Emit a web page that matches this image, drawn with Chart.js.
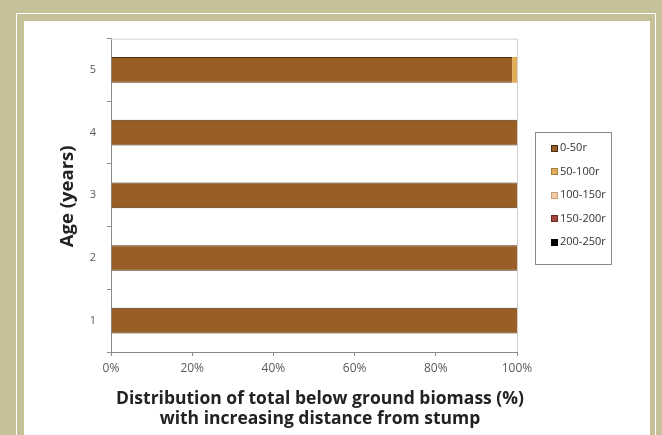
<!DOCTYPE html>
<html>
<head>
<meta charset="utf-8">
<script src="https://cdn.jsdelivr.net/npm/chart.js@4"></script>
<style>
  html, body { margin: 0; padding: 0; }
  body { width: 662px; height: 435px; background: #c6c198; position: relative; overflow: hidden; }
  .rule { position: absolute; left: 16px; top: 13px; width: 638px; height: 440px;
          border-left: 1px solid #fff; border-top: 1px solid #fff; border-right: 1px solid #fff; }
  .panel { position: absolute; left: 24px; top: 21px; width: 626px; height: 414px; background: #fff; }
  .panel canvas { position: absolute; left: 0; top: 0; }
</style>
</head>
<body>
<div class="rule"></div>
<div class="panel"><canvas id="biomass" width="626" height="414" style="width:626px;height:414px"></canvas></div>
<script>
// Tree age classes (years)
const ages = ['1', '2', '3', '4', '5'];

// Root-zone distance classes
const zoneNames = ['0-50r', '50-100r', '100-150r', '150-200r', '200-250r'];

// Share of below-ground biomass in each zone, % per age class
const zone0to50    = [100, 100, 100, 100, 98.8];
const zone50to100  = [0, 0, 0, 0, 1.2];
const zone100to150 = [0, 0, 0, 0, 0];
const zone150to200 = [0, 0, 0, 0, 0];
const zone200to250 = [0, 0, 0, 0, 0];

// Percent ticks along the horizontal axis
const percentTicks = [0, 20, 40, 60, 80, 100];

const xTitleLines = ['Distribution of total below ground biomass (%)', 'with increasing distance from stump'];
const yTitle = 'Age (years)';

const zoneColours = ['#995e26', '#e1ad58', '#f2cca5', '#a3433a', '#000000'];
const zoneEdges   = ['#4a2c10', '#a87c3a', '#c49c78', '#6e2a24', '#000000'];
const FONT = '"Open Sans", "DejaVu Sans", sans-serif';

const zoneValues = [zone0to50, zone50to100, zone100to150, zone150to200, zone200to250];

// Light frame along the top and right of the plot area
const plotFrame = {
  id: 'plotFrame',
  afterDatasetsDraw(chart) {
    const { ctx, chartArea: a } = chart;
    ctx.save();
    ctx.strokeStyle = '#cfcfcf';
    ctx.lineWidth = 1;
    ctx.beginPath();
    ctx.moveTo(a.left, a.top + 0.5);
    ctx.lineTo(a.right + 0.5, a.top + 0.5);
    ctx.lineTo(a.right + 0.5, a.bottom);
    ctx.stroke();
    ctx.restore();
  }
};

// Boxed legend to the right of the plot, centred on it vertically
const zoneLegend = {
  id: 'zoneLegend',
  afterDraw(chart) {
    const { ctx, chartArea: a } = chart;
    const sets = chart.data.datasets;
    const step = 23.5;
    const midY = (a.top + a.bottom) / 2;
    const firstY = midY - step * (sets.length - 1) / 2;
    const boxL = Math.round(a.right + 18) + 0.5;
    const boxR = boxL + 76;
    const boxT = Math.round(firstY - 16) + 0.5;
    const boxB = Math.round(firstY + step * (sets.length - 1) + 22) + 0.5;
    ctx.save();
    ctx.strokeStyle = '#8a8a8a';
    ctx.lineWidth = 1;
    ctx.strokeRect(boxL, boxT, boxR - boxL, boxB - boxT);
    ctx.font = '11px ' + FONT;
    ctx.textBaseline = 'middle';
    ctx.textAlign = 'left';
    sets.forEach((ds, i) => {
      const cy = firstY + i * step;
      const sx = boxL + 15.5;
      ctx.fillStyle = ds.backgroundColor;
      ctx.fillRect(sx, Math.round(cy - 3.5), 7, 7);
      ctx.strokeStyle = zoneEdges[i];
      ctx.strokeRect(sx + 0.5, Math.round(cy - 3.5) + 0.5, 6, 6);
      ctx.fillStyle = '#333';
      ctx.fillText(ds.label, sx + 9, cy);
    });
    ctx.restore();
  }
};

// Axis titles: horizontal one centred a little right of the plot centre
const axisTitles = {
  id: 'axisTitles',
  afterDraw(chart) {
    const { ctx, chartArea: a } = chart;
    ctx.save();
    ctx.fillStyle = '#222';
    ctx.textAlign = 'center';
    ctx.textBaseline = 'middle';
    ctx.font = 'bold 17.5px ' + FONT;
    const cx = (a.left + a.right) / 2 + 6;
    xTitleLines.forEach((line, i) => ctx.fillText(line, cx, a.bottom + 47 + i * 20));
    ctx.translate(a.left - 43, (a.top + a.bottom) / 2 + 1);
    ctx.rotate(-Math.PI / 2);
    ctx.font = 'bold 18.5px ' + FONT;
    ctx.fillText(yTitle, 0, 0);
    ctx.restore();
  }
};

new Chart(document.getElementById('biomass'), {
  type: 'bar',
  data: {
    labels: ages,
    datasets: zoneNames.map((name, i) => ({
      label: name,
      data: zoneValues[i],
      backgroundColor: zoneColours[i],
      borderColor: zoneEdges[i],
      borderWidth: i === 0 ? { top: 1, bottom: 1, left: 0, right: 0 } : 0,
      borderSkipped: false,
      barPercentage: 0.41,
      categoryPercentage: 1
    }))
  },
  options: {
    indexAxis: 'y',
    responsive: false,
    animation: false,
    layout: { padding: { top: 16, left: 0, right: 133, bottom: 0 } },
    plugins: {
      tooltip: { enabled: false },
      legend: { display: false }
    },
    scales: {
      x: {
        stacked: true,
        min: 0,
        max: 100,
        afterBuildTicks(s) { s.ticks = percentTicks.map(v => ({ value: v })); },
        ticks: {
          callback: v => v + '%',
          color: '#5a5a5a',
          padding: 5,
          font: { family: FONT, size: 12 }
        },
        grid: { drawOnChartArea: false, drawTicks: true, tickLength: 4, color: '#8a8a8a' },
        border: { color: '#8a8a8a' },
        afterFit(s) { s.height = 83; }
      },
      y: {
        stacked: true,
        reverse: true,
        ticks: { color: '#5a5a5a', padding: 11, font: { family: FONT, size: 11 } },
        grid: { drawOnChartArea: false, drawTicks: true, tickLength: 4, color: '#8a8a8a' },
        border: { color: '#8a8a8a' },
        afterFit(s) { s.width = 87; }
      }
    }
  },
  plugins: [plotFrame, zoneLegend, axisTitles]
});
</script>
</body>
</html>
